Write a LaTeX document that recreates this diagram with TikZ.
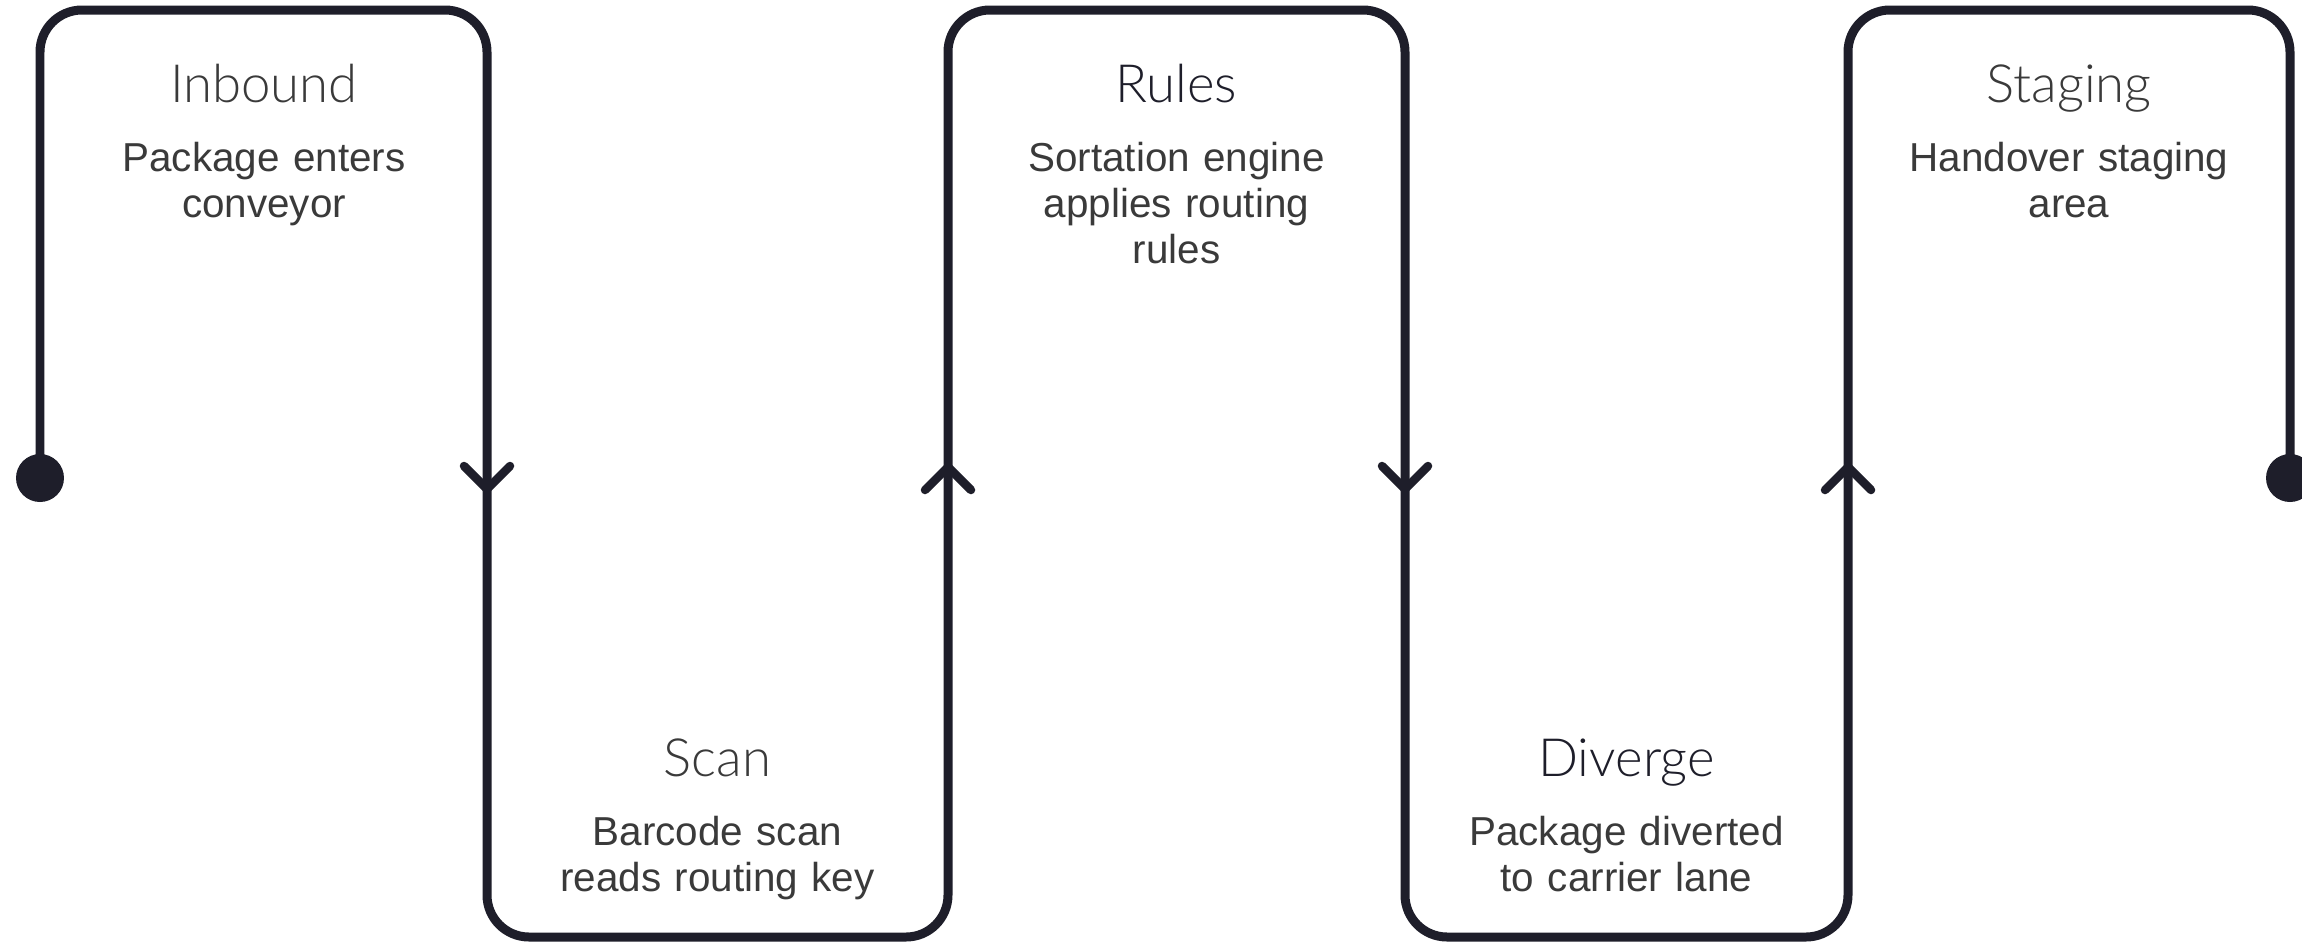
\documentclass[tikz,border=0pt]{standalone}
\usepackage{fontspec}
\setmainfont{Liberation Sans}
\newfontfamily\titlefont{Lato}[UprightFont={* Light}]
\usetikzlibrary{positioning}
\definecolor{beltcol}{HTML}{1E1E2A}
\definecolor{lighttitle}{HTML}{3A3A3A}
\definecolor{desccol}{HTML}{3A3A3A}

\begin{document}
\begin{tikzpicture}[x=0.02cm,y=-0.02cm,
    belt/.style={draw=beltcol,line width=0.18cm,rounded corners=0.84cm},
    chev/.style={draw=beltcol,line width=0.17cm,line cap=round,line join=round},
    endpt/.style={circle,fill=beltcol,minimum size=0.96cm,inner sep=0pt},
    steptitle/.style={anchor=base,inner sep=0pt,
      font=\titlefont\fontsize{30}{32}\selectfont},
    stepdesc/.style={anchor=base,inner sep=0pt,text width=8cm,align=center,
      text=desccol,font=\fontsize{23}{26.2}\selectfont}]

      \fill[white] (0,0) rectangle (2302,944);
      \useasboundingbox (0,0) rectangle (2302,944);

      % belt ends and turning points
      \node[endpt] (start) at (40,478) {};
      \node[endpt] (finish) at (2290,478) {};
      \coordinate (m1) at (487,478);
      \coordinate (m2) at (948,478);
      \coordinate (m3) at (1405,478);
      \coordinate (m4) at (1848,478);

      % the belt
      \draw[belt] (start.center) -- (40,10) -- (487,10) -- (m1)
      -- (487,937) -- (948,937) -- (m2) -- (948,10) -- (1405,10)
      -- (m3) -- (1405,937) -- (1848,937) -- (m4) -- (1848,10)
      -- (2290,10) -- (finish.center);

      % direction marks
      \draw[chev] (m1) ++(-23,-12) -- ++(23,23) -- ++(23,-23);
      \draw[chev] (m2) ++(-23,12) -- ++(23,-23) -- ++(23,23);
      \draw[chev] (m3) ++(-23,-12) -- ++(23,23) -- ++(23,-23);
      \draw[chev] (m4) ++(-23,12) -- ++(23,-23) -- ++(23,23);

      % step 1
      \node[steptitle,text=lighttitle] (inbound) at (264,102) {Inbound};
      \node[stepdesc] (inbounddesc) at (264,171) {Package enters\\conveyor};

      % step 2
      \node[steptitle,text=lighttitle] (scan) at (717.5,776) {Scan};
      \node[stepdesc] (scandesc) at (717.5,845) {Barcode scan\\reads routing key};

      % step 3
      \node[steptitle,text=beltcol] (rules) at (1176.5,102) {Rules};
      \node[stepdesc] (rulesdesc) at (1176.5,171)
      {Sortation engine\\applies routing\\rules};

      % step 4
      \node[steptitle,text=beltcol] (diverge) at (1626.5,776) {Diverge};
      \node[stepdesc] (divergedesc) at (1626.5,845)
      {Package diverted\\to carrier lane};

      % step 5
      \node[steptitle,text=lighttitle] (staging) at (2069,102) {Staging};
      \node[stepdesc] (stagingdesc) at (2069,171) {Handover staging\\area};

\end{tikzpicture}
\end{document}
